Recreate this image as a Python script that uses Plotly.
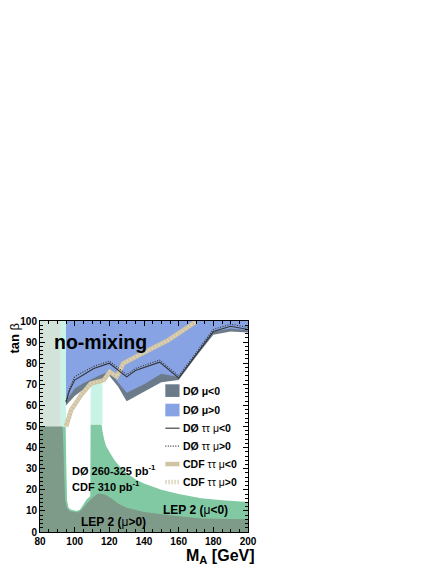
import plotly.graph_objects as go

# LEP 2 exclusion, mu<0 (upper edge of the green area)
lep_neg_mass = [80, 94.8, 95.2, 95.6, 96.5, 98, 101, 103, 105, 107, 109, 109.2, 115.5, 116, 117, 118,
                120, 123, 126, 130, 135, 140, 150, 160, 173, 185, 200]
lep_neg_tanb = [50, 50, 30, 15, 11.5, 10.5, 10, 10.5, 13, 15.5, 17, 51, 51, 48, 44, 41,
                38, 34, 31, 28, 25, 23, 20, 18, 16, 15, 14.2]

# LEP 2 exclusion, mu>0 (upper edge of the dark green area)
lep_pos_mass = [80, 93, 93.5, 94, 94.5, 95.5, 97, 100, 102, 104, 107, 110, 113, 115, 118, 121,
                125, 130, 140, 155, 173, 200]
lep_pos_tanb = [50, 50, 40, 25, 15, 11.5, 10, 9.5, 9.2, 10.5, 13.5, 16, 18, 18.3, 17.5, 16,
                13.5, 11.5, 9.5, 7.9, 6.4, 6]

# theoretically inaccessible strips
inacc_gray_mass = [80, 92]
inacc_gray_tanb = [50, 100]
inacc_cyan = [([92, 95], [50, 100]), ([109.2, 116], [51, 73])]

# DO exclusion lower edges
d0_mass = [95, 100, 105, 110, 115, 120, 125, 130, 140, 150, 160, 170, 180, 190, 200]
d0_neg_tanb = [60, 64.5, 67.5, 70, 72, 74, 69, 62, 66.5, 71, 72, 83, 93.5, 95, 94.5]
d0_pos_tanb = [62, 68, 70.5, 72.5, 74.5, 76, 71, 66, 70, 75, 73.5, 84.5, 95, 96.5, 95.5]

# DO tautau expected limits
d0tt_mass = [95, 97, 100, 103, 111, 120, 124, 130, 135, 149, 160, 180, 190, 200]
d0tt_neg = [61.5, 67, 72, 73.5, 77.5, 80, 77.5, 73.5, 76.5, 80.5, 73, 95, 97.5, 96]
d0tt_pos = [62, 68, 73.5, 75, 78.5, 81, 78.5, 74.5, 77.5, 81.5, 74, 96, 98.5, 97]

# CDF tautau limits
cdf_mass = [95, 98, 103.7, 109.3, 116.8, 120.2, 124.3, 128, 139.2, 154.2, 170]
cdf_tanb = [50, 57.8, 64.9, 70.4, 72, 75.9, 73.6, 79.9, 84.7, 91, 99.7]

legend_labels = ["<b>DØ μ&lt;0</b>", "<b>DØ μ&gt;0</b>", "<b>DØ</b> ττ μ<b>&lt;0</b>",
                 "<b>DØ</b> ττ μ<b>&gt;0</b>", "<b>CDF</b> ττ μ<b>&lt;0</b>", "<b>CDF</b> ττ μ<b>&gt;0</b>"]
legend_tanb = [67.0, 57.8, 49.2, 40.7, 32.2, 23.7]

C_LEPNEG = "#80c9a3"
C_LEPPOS = "#7e9b89"
C_GRAY = "#d3e3da"
C_CYAN = "#c8f3e6"
C_D0NEG = "#6c7b89"
C_D0POS = "#87a3e3"
C_CDF = "#d0c4a2"
C_CDF_DOT = "#ddd3b9"
C_LINE = "#333333"
FONT = "Liberation Sans, Arial, sans-serif"

fig = go.Figure()


def poly(xs, ys, color):
    fig.add_trace(go.Scatter(x=xs, y=ys, fill="toself", fillcolor=color, mode="none",
                             hoverinfo="skip", showlegend=False))


# LEP mu<0
poly([80] + lep_neg_mass + [200, 80], [0] + lep_neg_tanb + [0, 0], C_LEPNEG)
# inaccessible regions
poly([inacc_gray_mass[0], inacc_gray_mass[1], inacc_gray_mass[1], inacc_gray_mass[0]],
     [inacc_gray_tanb[0], inacc_gray_tanb[0], inacc_gray_tanb[1], inacc_gray_tanb[1]], C_GRAY)
for (mx, ty) in inacc_cyan:
    poly([mx[0], mx[1], mx[1], mx[0]], [ty[0], ty[0], ty[1], ty[1]], C_CYAN)
# LEP mu>0
poly([80] + lep_pos_mass + [200, 80], [0] + lep_pos_tanb + [0, 0], C_LEPPOS)
# DO mu<0 and mu>0
poly(d0_mass + [200, 95], d0_neg_tanb + [100, 100], C_D0NEG)
poly(d0_mass + [200, 95], d0_pos_tanb + [100, 100], C_D0POS)

# CDF lines
cdf_solid = dict(color=C_CDF, width=4.5)
cdf_dotted = dict(color=C_CDF_DOT, width=3, dash="1.5px,2px")
fig.add_trace(go.Scatter(x=cdf_mass, y=cdf_tanb, mode="lines", line=cdf_solid,
                         showlegend=False, hoverinfo="skip"))
fig.add_trace(go.Scatter(x=cdf_mass, y=cdf_tanb, mode="lines", line=cdf_dotted,
                         showlegend=False, hoverinfo="skip"))
# DO tautau lines
d0_solid = dict(color=C_LINE, width=1.1)
d0_dotted = dict(color=C_LINE, width=1.1, dash="1px,1.5px")
fig.add_trace(go.Scatter(x=d0tt_mass, y=d0tt_neg, mode="lines", line=d0_solid,
                         showlegend=False, hoverinfo="skip"))
fig.add_trace(go.Scatter(x=d0tt_mass, y=d0tt_pos, mode="lines", line=d0_dotted,
                         showlegend=False, hoverinfo="skip"))

# legend
lx0, lx1, ltxt = 152.3, 160.5, 161.5
fills = [C_D0NEG, C_D0POS]
for i, c in enumerate(fills):
    fig.add_shape(type="rect", x0=lx0, x1=lx1, y0=legend_tanb[i] - 3.0, y1=legend_tanb[i] + 3.0,
                  fillcolor=c, line_width=0, layer="above")
line_styles = [d0_solid, d0_dotted, cdf_solid, dict(color=C_CDF_DOT, width=4.5, dash="1.5px,1.5px")]
for i, st in enumerate(line_styles):
    yy = legend_tanb[i + 2]
    fig.add_trace(go.Scatter(x=[lx0, lx1], y=[yy, yy], mode="lines", line=st,
                             showlegend=False, hoverinfo="skip"))
for lab, yy in zip(legend_labels, legend_tanb):
    fig.add_annotation(x=ltxt, y=yy, text=lab, showarrow=False, xanchor="left", yanchor="middle",
                       font=dict(family=FONT, size=10.5, color="black"))

# text labels
fig.add_annotation(x=86.8, y=90.2, text="<b>no-mixing</b>", showarrow=False, xanchor="left",
                   yanchor="middle", font=dict(family=FONT, size=19.5, color="black"))
fig.add_annotation(x=97.5, y=29.6, text="<b>DØ 260-325 pb<sup>-1</sup></b>", showarrow=False,
                   xanchor="left", yanchor="middle", font=dict(family=FONT, size=11, color="black"))
fig.add_annotation(x=97.5, y=22.0, text="<b>CDF 310 pb<sup>-1</sup></b>", showarrow=False,
                   xanchor="left", yanchor="middle", font=dict(family=FONT, size=11, color="black"))
fig.add_annotation(x=150.0, y=10.3, text="<b>LEP 2 (</b>μ<b>&lt;0)</b>", showarrow=False,
                   xanchor="left", yanchor="middle", font=dict(family=FONT, size=12, color="black"))
fig.add_annotation(x=102.5, y=4.7, text="<b>LEP 2 (</b>μ<b>&gt;0)</b>", showarrow=False,
                   xanchor="left", yanchor="middle", font=dict(family=FONT, size=12, color="black"))

# axis titles
fig.add_annotation(xref="paper", yref="paper", x=1.042, y=-0.115, text="<b>M<sub>A</sub> [GeV]</b>",
                   showarrow=False, xanchor="right", yanchor="middle",
                   font=dict(family=FONT, size=16, color="black"))
fig.add_annotation(xref="paper", yref="paper", x=-0.125, y=1.0, text="<b>tan</b> β",
                   textangle=-90, showarrow=False, xanchor="center", yanchor="top",
                   font=dict(family=FONT, size=13, color="black"))

axis_common = dict(showgrid=False, zeroline=False, showline=True, linecolor="black", linewidth=1,
                   mirror="ticks", ticks="inside", ticklen=5, tickcolor="black",
                   tickfont=dict(family=FONT, size=10, color="black", weight="bold"))
fig.update_xaxes(range=[80, 200], dtick=20, minor=dict(ticks="inside", dtick=5, ticklen=3,
                                                       tickcolor="black"), **axis_common)
fig.update_yaxes(range=[0, 100], dtick=10, minor=dict(ticks="inside", dtick=2, ticklen=3,
                                                      tickcolor="black"), **axis_common)
fig.update_layout(width=442, height=572, margin=dict(l=26, r=202, t=313, b=48),
                  plot_bgcolor="white", paper_bgcolor="white", showlegend=False)

fig.write_html("out.html")
